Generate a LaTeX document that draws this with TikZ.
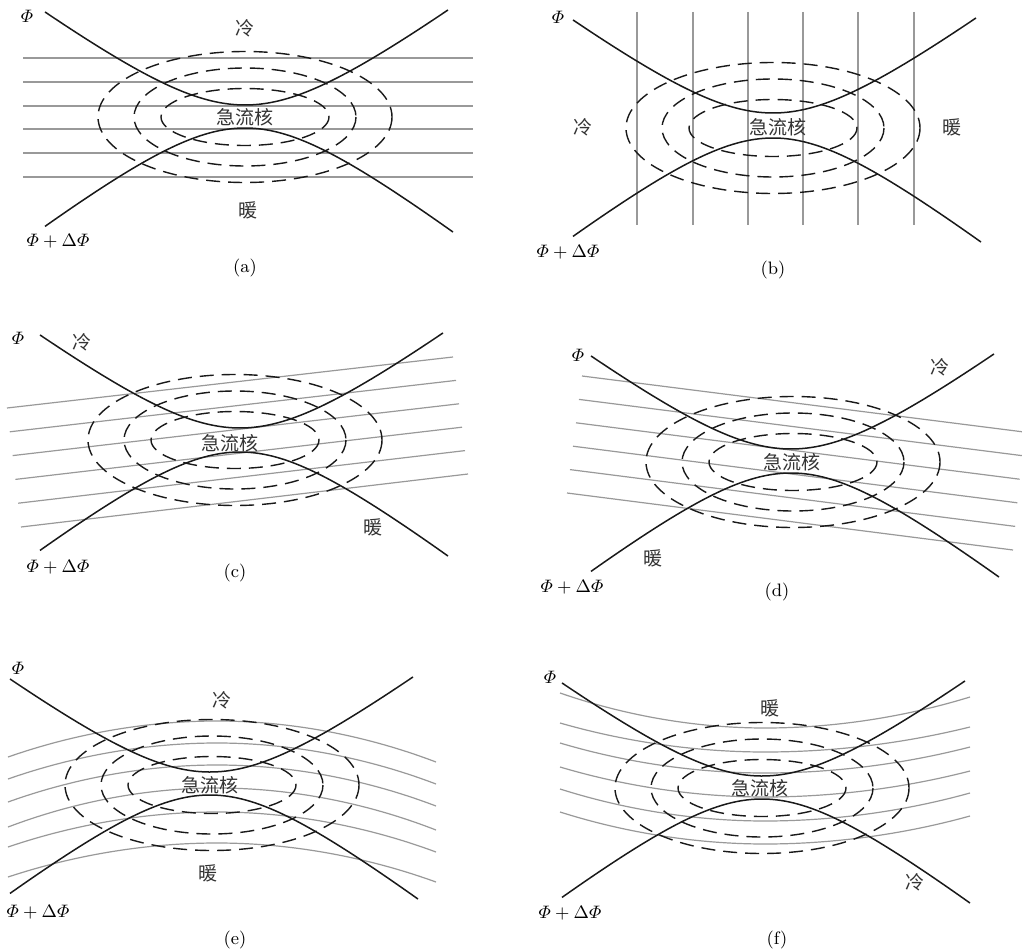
\documentclass[tikz,border=0pt]{standalone}
\usepackage{amsmath}
\usepackage{fontspec}
\newfontfamily\cjk{Noto Sans CJK SC}
\usetikzlibrary{positioning}

% pair of height contours: centre x, trough of the upper one, crest of the lower one
\newcommand{\fronts}[3]{%
  \draw[front] plot[domain=-200:203] ({#1+\x},{#2-74.5*(sqrt(1+(\x/99.3)^2)-1)});
  \draw[front] plot[domain=-200:208] ({#1+\x},{#3+74.5*(sqrt(1+(\x/95.5)^2)-1)});
}
% three isotachs round the jet core
\newcommand{\rings}[2]{%
  \draw[jet] (#1,#2) ellipse[x radius=147, y radius=65.5];
  \draw[jet] (#1,#2) ellipse[x radius=111, y radius=49];
  \draw[jet] (#1,#2) ellipse[x radius=84, y radius=28.5];
}

\begin{document}
\begin{tikzpicture}[
  x=0.5pt, y=-0.5pt,
  front/.style={draw=black!90, line width=0.75pt, samples=80, smooth},
  isobar/.style={draw=black!40, line width=0.6pt},
  jet/.style={draw=black!90, line width=0.7pt, dash pattern=on 7pt off 4pt},
  txt/.style={font=\cjk\fontsize{9.5}{11}\selectfont, text=black!80, inner sep=1pt},
  sym/.style={font=\fontsize{9}{10}\selectfont, inner sep=1pt},
  subcap/.style={font=\fontsize{9}{10}\selectfont, inner sep=1pt}
]
\path[fill=white, use as bounding box] (0,0) rectangle (1022,952);

% (a)
\foreach \y in {58,82,106,129,153,177}
  \draw[isobar] (23,\y) -- (473,\y);
\rings{245}{117}
\fronts{245}{105}{128}
\node[sym] (phiA) at (27,16) {$\varPhi$};
\node[sym] (dphiA) at (58,241) {$\varPhi+\Delta\varPhi$};
\node[txt] (coldA) at (245,28) {冷};
\node[txt] (warmA) at (248,210) {暖};
\node[txt] (coreA) at (245,117) {急流核};
\node[subcap] (capA) at (245,268) {(a)};

% (b)
\foreach \x in {637,693,748,803,858,914}
  \draw[isobar] (\x,12) -- (\x,225);
\rings{773}{128}
\fronts{773}{113}{138}
\node[sym] (phiB) at (558,17) {$\varPhi$};
\node[sym] (dphiB) at (568,252) {$\varPhi+\Delta\varPhi$};
\node[txt] (coldB) at (583,127) {冷};
\node[txt] (warmB) at (952,127) {暖};
\node[txt] (coreB) at (778,127) {急流核};
\node[subcap] (capB) at (773,270) {(b)};

% (c)
\foreach \i in {0,...,5}
  \draw[isobar] ({7+2.8*\i},{408+23.8*\i}) -- ({453+3*\i},{357+23.4*\i});
\rings{235}{440}
\fronts{240}{428}{452}
\node[sym] (phiC) at (18,338) {$\varPhi$};
\node[sym] (dphiC) at (58,567) {$\varPhi+\Delta\varPhi$};
\node[txt] (coldC) at (82,342) {冷};
\node[txt] (warmC) at (373,527) {暖};
\node[txt] (coreC) at (230,443) {急流核};
\node[subcap] (capC) at (235,573) {(c)};

% (d)
\foreach \i in {0,...,5}
  \draw[isobar] ({582-3*\i},{376+23.4*\i}) -- ({1024-2.2*\i},{432+23.6*\i});
\rings{793}{462}
\fronts{791}{449}{473}
\node[sym] (phiD) at (578,355) {$\varPhi$};
\node[sym] (dphiD) at (572,587) {$\varPhi+\Delta\varPhi$};
\node[txt] (coldD) at (940,367) {冷};
\node[txt] (warmD) at (653,558) {暖};
\node[txt] (coreD) at (792,462) {急流核};
\node[subcap] (capD) at (777,592) {(d)};

% (e)
\foreach \l/\p/\r in {757/721/762,779/743/784,802/765/806,827/788/830,847/812/852,877/843/882}
  \draw[isobar] (8,\l) parabola bend (217,\p) (436,\r);
\rings{212}{785}
\fronts{210}{772}{795}
\node[sym] (phiE) at (18,668) {$\varPhi$};
\node[sym] (dphiE) at (38,912) {$\varPhi+\Delta\varPhi$};
\node[txt] (coldE) at (222,700) {冷};
\node[txt] (warmE) at (208,873) {暖};
\node[txt] (coreE) at (210,785) {急流核};
\node[subcap] (capE) at (235,940) {(e)};

% (f)
\foreach \l/\t/\r in {693/728/697,723/752/727,743/773/747,767/797/771,789/821/793,812/844/816}
  \draw[isobar] (560,\l) parabola bend (765,\t) (970,\r);
\rings{762}{788}
\fronts{762}{776}{799}
\node[sym] (phiF) at (550,677) {$\varPhi$};
\node[sym] (dphiF) at (570,913) {$\varPhi+\Delta\varPhi$};
\node[txt] (warmF) at (770,708) {暖};
\node[txt] (coldF) at (915,882) {冷};
\node[txt] (coreF) at (760,788) {急流核};
\node[subcap] (capF) at (777,940) {(f)};
\end{tikzpicture}
\end{document}
